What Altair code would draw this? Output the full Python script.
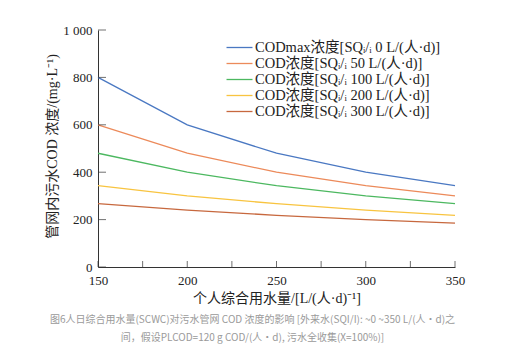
import altair as alt
import pandas as pd

x_vals = [150, 200, 250, 300, 350]
series_names = [
    "CODmax浓度[SQᵢ/ᵢ 0 L/(人·d)]",
    "COD浓度[SQᵢ/ᵢ 50 L/(人·d)]",
    "COD浓度[SQᵢ/ᵢ 100 L/(人·d)]",
    "COD浓度[SQᵢ/ᵢ 200 L/(人·d)]",
    "COD浓度[SQᵢ/ᵢ 300 L/(人·d)]",
]
cod_sq0 = [800, 600, 480, 400, 343]
cod_sq50 = [600, 480, 400, 343, 300]
cod_sq100 = [480, 400, 343, 300, 267]
cod_sq200 = [343, 300, 267, 240, 218]
cod_sq300 = [267, 240, 218, 200, 185]
colors = ["#4a78c2", "#ec8a5a", "#4cb860", "#f8c440", "#c7683e"]

x_tick_vals = [150, 175, 200, 225, 250, 275, 300, 325, 350]
x_label_vals = [150, 200, 250, 300, 350]
y_tick_vals = [0, 200, 400, 600, 800, 1000]

caption = [
    "图6人日综合用水量(SCWC)对污水管网 COD 浓度的影响  [外来水(SQI/I): ~0 ~350 L/(人·d)之",
    "间，假设PLCOD=120 g COD/(人·d), 污水全收集(X=100%)]",
]

rows = []
for name, vals in zip(series_names, [cod_sq0, cod_sq50, cod_sq100, cod_sq200, cod_sq300]):
    for x, v in zip(x_vals, vals):
        rows.append({"scwc": x, "cod": v, "series": name})
df = pd.DataFrame(rows)

serif = "Liberation Serif, Noto Sans CJK SC, serif"
x_scale = alt.Scale(domain=[150, 350], nice=False, zero=False)
y_scale = alt.Scale(domain=[0, 1000], nice=False)

x_axis = alt.Axis(values=x_label_vals, tickSize=0, labelPadding=7, labelFlush=False,
                  title="个人综合用水量/[L/(人·d)⁻¹]", titlePadding=4, format="d")
y_axis = alt.Axis(values=y_tick_vals, tickSize=0, labelPadding=6, labelFlush=False,
                  labelExpr="replace(format(datum.value, ','), ',', ' ')",
                  title="管网内污水COD 浓度/(mg·L⁻¹)", titleX=-46, titleY=116,
                  titleBaseline="middle")

lines = alt.Chart(df).mark_line(strokeWidth=1.3).encode(
    x=alt.X("scwc:Q", scale=x_scale, axis=x_axis),
    y=alt.Y("cod:Q", scale=y_scale, axis=y_axis),
    color=alt.Color("series:N",
                    scale=alt.Scale(domain=series_names, range=colors),
                    sort=series_names,
                    legend=alt.Legend(title=None, orient="none", legendX=132, legendY=8,
                                      symbolType="M-1.5,0L1.5,0", symbolStrokeWidth=1.3,
                                      symbolSize=300, labelFont=serif, labelFontSize=14.5,
                                      labelColor="#222", labelLimit=400,
                                      rowPadding=0, labelOffset=6)),
)

xt = pd.DataFrame({"t": x_tick_vals})
x_ticks = alt.Chart(xt).mark_tick(orient="vertical", size=6, thickness=1, color="#333", yOffset=-3).encode(
    x=alt.X("t:Q", scale=x_scale, axis=x_axis),
    y=alt.datum(0, scale=y_scale, axis=y_axis),
)
yt = pd.DataFrame({"t": y_tick_vals})
y_ticks = alt.Chart(yt).mark_tick(orient="horizontal", size=8, thickness=1, color="#333", xOffset=4).encode(
    y=alt.Y("t:Q", scale=y_scale, axis=y_axis),
    x=alt.datum(150, scale=x_scale, axis=x_axis),
)

chart = alt.layer(lines, x_ticks, y_ticks).properties(
    width=357, height=237,
    autosize=alt.AutoSizeParams(type="none"),
    padding={"left": 90, "top": 22, "right": 61, "bottom": 85},
    title=alt.TitleParams(text=caption, orient="bottom", anchor="middle", dx=-24, offset=10,
                          fontSize=10, color="#9a9a9a", fontWeight="normal",
                          font="Noto Sans CJK SC", lineHeight=18),
).configure_view(stroke=None).configure_axis(
    domainColor="#333", domainWidth=1, grid=False,
    labelFont=serif, labelFontSize=13, labelColor="#222",
    titleFont=serif, titleFontSize=14, titleColor="#222", titleFontWeight="normal",
)

chart.save("out.html", embed_options={"renderer": "svg", "actions": False})
